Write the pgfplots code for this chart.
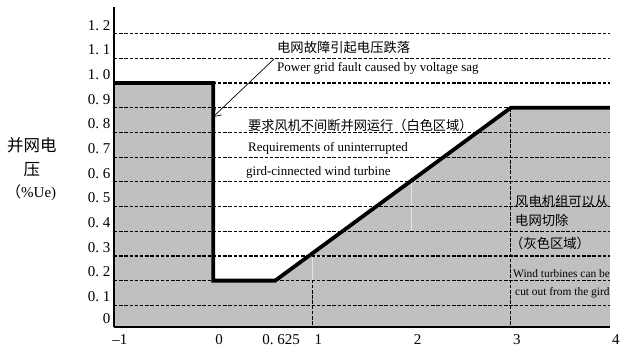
\documentclass[border=0pt]{standalone}
\usepackage{fontspec}
\setmainfont{Liberation Serif}
\newfontfamily\cjk{Noto Sans CJK SC}
\usepackage{pgfplots}
\pgfplotsset{compat=1.18}
\usetikzlibrary{arrows.meta}
\definecolor{fillgray}{RGB}{192,192,192}
\definecolor{lightedge}{RGB}{228,228,228}
\begin{document}
\begin{tikzpicture}
\path[use as bounding box] (-114pt,-33.3pt) rectangle (516pt,326.7pt);
\begin{axis}[
  at={(0pt,0pt)}, anchor=south west,
  scale only axis, width=496pt, height=319.7pt,
  xmin=-1, xmax=4, ymin=0.0133, ymax=1.308,
  axis x line=bottom, axis y line=left,
  axis line style={-, line width=1.6pt},
  xtick={-1,0,0.625,1,2,3,4},
  xticklabels={--1,0,0.\ 625,1,2,3,4},
  ytick={0.0133,0.1,0.2,0.3,0.4,0.5,0.6,0.7,0.8,0.9,1.0,1.1,1.2},
  yticklabels={0,0.\ 1,0.\ 2,0.\ 3,0.\ 4,0.\ 5,0.\ 6,0.\ 7,0.\ 8,0.\ 9,1.\ 0,1.\ 1,1.\ 2},
  major tick length=0pt,
  /pgf/number format/assume math mode=true,
  tick label style={font=\fontsize{15}{17}\selectfont},
  xticklabel style={anchor=center, xshift=6pt, yshift=-13.3pt},
  yticklabel style={anchor=east, yshift=8.5pt},
  ymajorgrids,
  grid style={black, line width=1.2pt, dash pattern=on 3.5pt off 1.7pt},
  axis on top,
]
\addplot[draw=none, fill=fillgray] coordinates {(-1,0) (-1,1) (0,1) (0,0.2) (0.625,0.2) (3,0.9) (4,0.9) (4,0)};
\addplot[lightedge, line width=0.8pt] coordinates {(1,0.2) (1,0.3) (1.3,0.3)};
\addplot[lightedge, line width=0.8pt] coordinates {(2,0.4) (2,0.6) (2.28,0.6)};
\addplot[black, line width=1.2pt, dash pattern=on 3.5pt off 1.7pt] coordinates {(1,0) (1,0.2)};
\addplot[black, line width=1.2pt, dash pattern=on 3.5pt off 1.7pt] coordinates {(3,0) (3,0.9)};
\addplot[black, line width=3.8pt, line join=miter] coordinates {(-1,1.0) (0,1.0) (0,0.2) (0.625,0.2) (3,0.9) (4,0.9)};
\end{axis}
\draw[-{Straight Barb[length=7pt,width=9pt]}, line width=0.7pt] (160pt,267.7pt) -- (99pt,209.7pt);
\node[anchor=west, inner sep=0pt, font=\cjk\fontsize{13.3}{15}\selectfont] at (163pt,279pt) {电网故障引起电压跌落};
\node[anchor=west, inner sep=0pt, font=\fontsize{13}{15}\selectfont] at (163pt,258.7pt) {Power grid fault caused by voltage sag};
\node[anchor=west, inner sep=0pt, font=\cjk\fontsize{13.2}{15}\selectfont] at (134pt,201.7pt) {要求风机不间断并网运行（白色区域）};
\node[anchor=west, inner sep=0pt, font=\fontsize{13}{15}\selectfont] at (134pt,178.7pt) {Requirements of uninterrupted};
\node[anchor=west, inner sep=0pt, font=\fontsize{13}{15}\selectfont] at (132pt,154.7pt) {gird-cinnected wind turbine};
\node[anchor=west, inner sep=0pt, font=\cjk\fontsize{13.3}{15}\selectfont] at (401pt,125pt) {风电机组可以从};
\node[anchor=west, inner sep=0pt, font=\cjk\fontsize{13.3}{15}\selectfont] at (401pt,106.7pt) {电网切除};
\node[anchor=west, inner sep=0pt, font=\cjk\fontsize{13.3}{15}\selectfont] at (396pt,83.7pt) {（灰色区域）};
\node[anchor=west, inner sep=0pt, font=\fontsize{11.4}{13}\selectfont] at (399pt,52.7pt) {Wind turbines can be};
\node[anchor=west, inner sep=0pt, font=\fontsize{11.4}{13}\selectfont] at (401pt,34pt) {cut out from the gird};
\node[font=\cjk\fontsize{16.5}{18}\selectfont] at (-82pt,181.7pt) {并网电};
\node[font=\cjk\fontsize{16.5}{18}\selectfont] at (-82pt,156.7pt) {压};
\node[anchor=west, inner sep=0pt, font=\fontsize{15}{17}\selectfont] at (-108pt,133.7pt) {{\cjk （}\%Ue)};
\end{tikzpicture}
\end{document}
